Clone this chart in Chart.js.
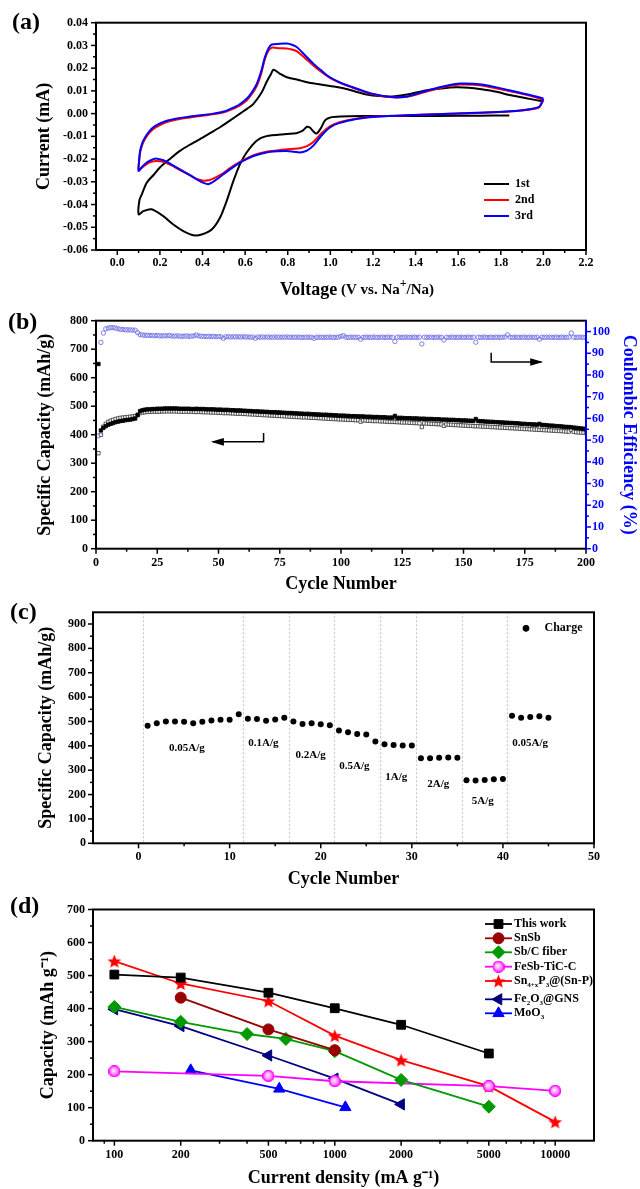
<!DOCTYPE html>
<html>
<head>
<meta charset="utf-8">
<title>Electrochemical performance</title>
<script src="https://cdn.jsdelivr.net/npm/chart.js@4.4.1/dist/chart.umd.min.js"></script>
<style>
  body { margin: 0; background: #fff; }
  #page { position: relative; width: 640px; height: 1189px; overflow: hidden; background: #fff; }
  #page canvas { position: absolute; left: 0; }
  .tag { position: absolute; font: bold 24px "Liberation Serif", serif; line-height: 24px; color: #000; }
</style>
</head>
<body>
<div id="page">
  <canvas id="cvChart" width="640" height="310" style="top:0"></canvas>
  <canvas id="cycleChart" width="640" height="300" style="top:300px"></canvas>
  <canvas id="rateChart" width="640" height="295" style="top:595px"></canvas>
  <canvas id="compareChart" width="640" height="299" style="top:890px"></canvas>
  <div class="tag" style="left:12px;top:9px">(a)</div>
  <div class="tag" style="left:8px;top:309px">(b)</div>
  <div class="tag" style="left:10px;top:599px">(c)</div>
  <div class="tag" style="left:10px;top:893px">(d)</div>
</div>
<script>
// ---- (a) cyclic voltammetry ----
const cv1Volt = [1.84, 1.7, 1.5, 1.3, 1.15, 1.05, 1.0, 0.975, 0.955, 0.935, 0.92, 0.905, 0.89, 0.87, 0.84, 0.795,
  0.70, 0.654, 0.607, 0.576, 0.545, 0.513, 0.482, 0.443, 0.396, 0.357, 0.31, 0.263, 0.216, 0.161, 0.122, 0.1,
  0.104, 0.115, 0.138, 0.17, 0.2, 0.25, 0.294, 0.34, 0.388, 0.435, 0.482, 0.53, 0.576, 0.61, 0.639, 0.678,
  0.70, 0.72, 0.733, 0.764, 0.795, 0.85, 0.89, 0.94, 0.983, 1.03, 1.08, 1.13, 1.17, 1.23, 1.29, 1.36,
  1.46, 1.52, 1.59, 1.65, 1.71, 1.78, 1.84, 1.92, 2.0];
const cv1Curr = [-0.0008, -0.0009, -0.001, -0.001, -0.0011, -0.0013, -0.0017, -0.003, -0.0065, -0.0088, -0.0078, -0.0062, -0.0058, -0.0075, -0.0086, -0.009,
  -0.0099, -0.0119, -0.0171, -0.0222, -0.0296, -0.0385, -0.0458, -0.051, -0.0532, -0.0535, -0.0517, -0.0488, -0.0451, -0.0421, -0.0429, -0.0443,
  -0.038, -0.0355, -0.0304, -0.027, -0.0237, -0.0197, -0.0164, -0.0137, -0.0112, -0.0086, -0.006, -0.003, 0.0, 0.0022, 0.0043, 0.0094,
  0.0138, 0.0172, 0.0193, 0.0175, 0.016, 0.0148, 0.0138, 0.013, 0.0124, 0.0117, 0.0107, 0.0094, 0.0084, 0.0077, 0.0075, 0.0084,
  0.0104, 0.0111, 0.0116, 0.0114, 0.0107, 0.0096, 0.0082, 0.0068, 0.0053];
// cycles 2 and 3 were read at the same voltages
const loopVolt = [2.0, 1.98, 1.9, 1.75, 1.56, 1.36, 1.27, 1.17, 1.1, 1.04, 1.0, 0.96, 0.92, 0.89, 0.858, 0.83, 0.795, 0.75, 0.70,
  0.65, 0.607, 0.57, 0.529, 0.5, 0.467, 0.445, 0.427, 0.405, 0.373, 0.335, 0.294, 0.255, 0.216, 0.185, 0.16, 0.138, 0.118, 0.1,
  0.102, 0.107, 0.118, 0.13, 0.15, 0.169, 0.2, 0.232, 0.28, 0.341, 0.4, 0.45, 0.5, 0.529, 0.57, 0.607, 0.63, 0.654, 0.675, 0.693,
  0.71, 0.725, 0.76, 0.795, 0.82, 0.842, 0.88, 0.92, 0.96, 0.998, 1.05, 1.1, 1.19, 1.29, 1.36, 1.46, 1.555, 1.61, 1.71, 1.84, 1.94, 2.0];
const cv2Curr = [0.006, 0.0028, 0.0014, 0.0005, -0.0001, -0.0007, -0.0011, -0.0016, -0.0026, -0.0039, -0.0055, -0.0085, -0.0125, -0.0143, -0.0152, -0.0155, -0.0157, -0.0162, -0.0168,
  -0.018, -0.0197, -0.0216, -0.024, -0.026, -0.0278, -0.0288, -0.0293, -0.0295, -0.0287, -0.0268, -0.0248, -0.0228, -0.0212, -0.0208, -0.0212, -0.0222, -0.0236, -0.0248,
  -0.0215, -0.0172, -0.0136, -0.0112, -0.0085, -0.0067, -0.005, -0.0037, -0.0026, -0.0017, -0.0009, -0.0003, 0.0006, 0.0016, 0.0033, 0.0058, 0.0084, 0.012, 0.0175, 0.024,
  0.0278, 0.029, 0.0288, 0.0287, 0.0282, 0.0275, 0.0245, 0.0212, 0.0182, 0.0157, 0.0133, 0.0116, 0.0087, 0.0072, 0.0074, 0.0099, 0.0121, 0.0128, 0.0124, 0.0099, 0.0078, 0.006];
const cv3Curr = [0.0067, 0.003, 0.0015, 0.0006, -0.0001, -0.0007, -0.0011, -0.0017, -0.0028, -0.0042, -0.006, -0.0095, -0.0141, -0.0163, -0.0171, -0.0168, -0.0164, -0.0166, -0.0171,
  -0.0183, -0.02, -0.0219, -0.0245, -0.0265, -0.0289, -0.0303, -0.0311, -0.0305, -0.0289, -0.0267, -0.0245, -0.0224, -0.0205, -0.0198, -0.0204, -0.0215, -0.0232, -0.0252,
  -0.021, -0.0164, -0.0128, -0.0105, -0.0078, -0.006, -0.0043, -0.0031, -0.0021, -0.0013, -0.0006, 0.0, 0.0009, 0.002, 0.0038, 0.0065, 0.0092, 0.013, 0.0185, 0.0249,
  0.0288, 0.0304, 0.0307, 0.0308, 0.0303, 0.0293, 0.0258, 0.022, 0.0188, 0.016, 0.0135, 0.0118, 0.0089, 0.0073, 0.0075, 0.0103, 0.0125, 0.0132, 0.0128, 0.0103, 0.0081, 0.0067];
const cvLabels = ['1st', '2nd', '3rd'];
const cvVoltTicks = [0.0, 0.2, 0.4, 0.6, 0.8, 1.0, 1.2, 1.4, 1.6, 1.8, 2.0, 2.2];
const cvCurrTicks = [-0.06, -0.05, -0.04, -0.03, -0.02, -0.01, 0.0, 0.01, 0.02, 0.03, 0.04];

// ---- (b) cycling at constant current, one value per cycle (1..200) ----
const dischargeCap = [
  648, 415, 424, 430, 435, 438, 441, 444, 446, 448, 449, 451, 452, 453, 455, 457, 470, 483, 486, 488,
  489, 489, 490, 490, 491, 491, 491, 492, 492, 492, 492, 492, 492, 491, 491, 491, 491, 491, 490, 490,
  491, 490, 490, 490, 489, 489, 489, 489, 488, 488, 488, 487, 487, 487, 486, 486, 485, 485, 485, 484,
  484, 483, 483, 482, 482, 482, 481, 481, 480, 480, 479, 479, 479, 478, 478, 477, 477, 476, 476, 476,
  475, 475, 474, 474, 473, 473, 473, 472, 472, 471, 471, 470, 470, 470, 469, 469, 468, 468, 467, 467,
  467, 466, 466, 465, 465, 465, 464, 464, 464, 463, 463, 463, 462, 462, 462, 461, 461, 461, 460, 460,
  460, 466, 459, 459, 459, 458, 458, 458, 457, 457, 457, 456, 456, 456, 455, 455, 455, 454, 454, 454,
  453, 453, 453, 452, 452, 452, 451, 451, 450, 450, 450, 449, 449, 448, 455, 448, 447, 447, 446, 446,
  445, 445, 444, 444, 443, 443, 442, 442, 441, 441, 440, 440, 439, 438, 438, 437, 437, 436, 436, 435,
  438, 434, 434, 433, 432, 432, 431, 430, 430, 429, 428, 427, 427, 426, 425, 424, 423, 422, 421, 419];
const chargeCap = [
  335, 400, 428, 438, 445, 449, 452, 455, 457, 459, 460, 461, 462, 463, 464, 465, 468, 476, 478, 479,
  480, 480, 481, 481, 481, 481, 482, 482, 482, 482, 482, 482, 482, 481, 481, 481, 481, 481, 481, 480,
  480, 480, 480, 479, 479, 479, 478, 478, 478, 477, 477, 476, 476, 476, 475, 475, 474, 474, 474, 473,
  473, 472, 472, 471, 471, 470, 470, 469, 469, 468, 468, 467, 467, 466, 466, 465, 465, 464, 464, 463,
  463, 462, 462, 461, 461, 461, 460, 460, 459, 459, 458, 458, 457, 457, 456, 456, 455, 455, 454, 454,
  453, 453, 452, 452, 452, 451, 451, 446, 450, 450, 449, 449, 448, 448, 448, 447, 447, 446, 446, 445,
  445, 445, 444, 444, 443, 443, 443, 442, 442, 441, 441, 440, 427, 440, 439, 439, 438, 438, 437, 437,
  436, 431, 436, 435, 435, 434, 434, 433, 433, 432, 432, 431, 431, 430, 430, 430, 429, 429, 428, 428,
  427, 427, 426, 426, 425, 425, 424, 424, 423, 423, 422, 422, 421, 421, 420, 420, 419, 419, 418, 418,
  417, 417, 416, 416, 415, 415, 414, 414, 413, 413, 412, 411, 411, 417, 410, 409, 408, 408, 407, 406];
const coulombicEff = [
  52, 95, 99.3, 101.3, 101.6, 101.8, 101.8, 101.6, 101.3, 101, 100.9, 100.8, 100.8, 100.7, 100.7, 100.6, 99.5, 98.6, 98.4, 98.3,
  98.3, 98.2, 98.2, 98.1, 98.2, 98, 98, 98.1, 98, 98.2, 97.9, 97.9, 98, 97.9, 97.8, 97.9, 98, 97.8, 97.9, 98,
  98.4, 98, 97.8, 97.8, 97.7, 97.8, 97.7, 97.8, 97.6, 97.7, 97.6, 96.9, 97.6, 97.6, 97.5, 97.6, 97.5, 97.6, 97.5, 97.6,
  97.5, 97.5, 97.4, 97.5, 96.9, 97.5, 97.4, 97.5, 97.4, 97.5, 97.4, 97.4, 97.5, 97.4, 97.4, 97.4, 97.4, 97.5, 97.4, 97.4,
  97.4, 97.4, 97.4, 97.3, 97.4, 97.4, 97.4, 97.3, 96.9, 97.4, 97.4, 97.4, 97.3, 97.4, 97.4, 97.4, 97.3, 97.4, 97.4, 97.8,
  98.1, 97.4, 97.3, 97.4, 97.4, 97.3, 97.4, 96.5, 97.3, 97.4, 97.4, 97.3, 97.4, 97.4, 97.3, 97.4, 97.4, 97.3, 97.4, 97.4,
  97.3, 95.4, 97.4, 97.4, 97.3, 97.4, 97.4, 97.3, 97.4, 97.4, 97.3, 97.4, 94.3, 97.4, 97.3, 97.4, 97.4, 97.3, 97.4, 97.4,
  97.3, 96.1, 97.4, 97.3, 97.4, 97.4, 97.3, 97.4, 97.4, 97.3, 97.4, 97.4, 97.3, 97.4, 95.1, 97.4, 97.3, 97.4, 97.4, 97.3,
  97.4, 97.3, 97.4, 97.4, 97.3, 97.4, 97.5, 98.5, 97.4, 97.3, 97.4, 97.4, 97.3, 97.4, 97.4, 97.3, 97.4, 97.4, 97.3, 97.4,
  96.5, 97.4, 97.3, 97.4, 97.4, 97.3, 97.4, 97.4, 97.3, 97.4, 97.4, 97.3, 97.4, 99.3, 97.4, 97.3, 97.4, 97.4, 97.3, 97.4];
const cycleTicks = [0, 25, 50, 75, 100, 125, 150, 175, 200];
const capTicks = [0, 100, 200, 300, 400, 500, 600, 700, 800];
const ceTicks = [0, 10, 20, 30, 40, 50, 60, 70, 80, 90, 100];
// guide arrows: capacity arrow on the left axis, efficiency arrow on the right axis
const capArrowCycle = [68.4, 68.4, 47.7];
const capArrowValue = [406, 375, 375];
const ceArrowCycle = [161.3, 161.3, 181.7];
const ceArrowValue = [90.2, 86, 86];

// ---- (c) rate capability, charge capacity for cycles 1..45 ----
const rateCharge = [
  482, 493, 500, 500, 499, 493, 499, 504, 507, 507,
  530, 511, 510, 503, 508, 515, 500, 490, 493, 489,
  484, 463, 456, 449, 447, 418, 407, 403, 401, 401,
  349, 349, 351, 352, 351, 259, 258, 260, 263, 264,
  523, 515, 518, 521, 515];
const rateSteps = [0.5, 11.5, 16.5, 21.5, 26.5, 30.5, 35.5, 40.5];
const rateNames = ['0.05A/g', '0.1A/g', '0.2A/g', '0.5A/g', '1A/g', '2A/g', '5A/g', '0.05A/g'];
const rateNameCycle = [5.3, 13.7, 18.9, 23.7, 28.3, 32.9, 37.8, 43];
const rateNameValue = [390, 411, 363, 318, 270, 244, 171, 411];
const rateCycleTicks = [0, 10, 20, 30, 40, 50];
const rateCapTicks = [0, 100, 200, 300, 400, 500, 600, 700, 800, 900];

// ---- (d) comparison with literature ----
const thisWorkI = [100, 200, 500, 1000, 2000, 5000];
const thisWorkC = [503, 494, 448, 401, 351, 264];
const snsbI = [200, 500, 1000];
const snsbC = [433, 337, 274];
const sbcI = [100, 200, 400, 600, 1000, 2000, 5000];
const sbcC = [405, 360, 323, 308, 271, 184, 103];
const fesbI = [100, 500, 1000, 5000, 10000];
const fesbC = [210, 196, 180, 165, 151];
const snpI = [100, 200, 500, 1000, 2000, 5000, 10000];
const snpC = [544, 476, 423, 318, 244, 165, 57];
const fe2o3I = [100, 200, 500, 1000, 2000];
const fe2o3C = [398, 347, 258, 188, 110];
const moo3I = [222, 560, 1117];
const moo3C = [213, 157, 101];
const compareLabels = ['This work', 'SnSb', 'Sb/C fiber', 'FeSb-TiC-C', 'Sn_{4+x}P_{3}@(Sn-P)', 'Fe_{2}O_{3}@GNS', 'MoO_{3}'];
const densityTicks = [100, 200, 500, 1000, 2000, 5000, 10000];
const densityMinor = [90, 300, 400, 600, 700, 800, 900, 3000, 4000, 6000, 7000, 8000, 9000];
const compareCapTicks = [0, 100, 200, 300, 400, 500, 600, 700];

// ---- shared setup ----
const serif = '"Liberation Serif", "Times New Roman", serif';
Chart.defaults.font.family = serif;
Chart.defaults.font.weight = 'bold';
Chart.defaults.font.size = 12;
Chart.defaults.color = '#000';
Chart.defaults.animation = false;
Chart.defaults.events = [];
Chart.defaults.plugins.legend.display = false;
Chart.defaults.plugins.tooltip.enabled = false;

const pts = (xs, ys) => xs.map((x, i) => ({ x: x, y: ys[i] }));
const byCycle = ys => ys.map((y, i) => ({ x: i + 1, y: y }));
const mids = arr => arr.slice(1).map((v, i) => (v + arr[i]) / 2);

function scale(o) {
  return {
    type: o.type || 'linear',
    position: o.position,
    min: o.min,
    max: o.max,
    grid: { display: false, drawTicks: false },
    border: { display: false },
    afterBuildTicks: s => { s.ticks = o.ticks.map(v => ({ value: v })); },
    afterFit: s => {
      if (o.width != null) s.width = o.width;
      if (o.height != null) s.height = o.height;
    },
    ticks: {
      padding: o.pad,
      color: o.color || '#000',
      font: { size: 12, weight: 'bold' },
      autoSkip: false,
      maxRotation: 0,
      callback: o.fmt || (v => String(v))
    },
    title: o.title
      ? { display: true, text: o.title, color: o.color || '#000', font: { size: 18, weight: 'bold' }, padding: o.titlePad }
      : { display: false }
  };
}

// text with _{sub} and ^{sup} parts
function richPieces(str, size) {
  const out = [];
  const re = /([_^])\{([^}]*)\}/g;
  let last = 0, m;
  while ((m = re.exec(str)) !== null) {
    if (m.index > last) out.push({ t: str.slice(last, m.index), size: size, dy: 0 });
    if (m[1] === '_') out.push({ t: m[2], size: Math.round(size * 0.62), dy: size * 0.32 });
    else out.push({ t: m[2], size: Math.round(size * 0.8), dy: -size * 0.38 });
    last = re.lastIndex;
  }
  if (last < str.length) out.push({ t: str.slice(last), size: size, dy: 0 });
  return out;
}
function drawPieces(ctx, pieces, x, y, align) {
  const f = p => 'bold ' + p.size + 'px ' + serif;
  let w = 0;
  pieces.forEach(p => { ctx.font = f(p); p.w = ctx.measureText(p.t).width; w += p.w; });
  let cx = align === 'center' ? x - w / 2 : x;
  ctx.textAlign = 'left';
  ctx.textBaseline = 'middle';
  pieces.forEach(p => { ctx.font = f(p); ctx.fillText(p.t, cx, y + p.dy); cx += p.w; });
}

function drawMarker(ctx, ds, x, y) {
  ctx.fillStyle = ds.pointBackgroundColor || ds.borderColor;
  ctx.strokeStyle = ds.pointBorderColor || ds.borderColor;
  ctx.lineWidth = ds.pointBorderWidth || 1;
  Chart.helpers.drawPoint(ctx, {
    pointStyle: ds.pointStyle,
    radius: ds.pointRadius,
    rotation: ds.pointRotation || 0,
    borderWidth: ds.pointBorderWidth || 1
  }, x, y);
}

// box frame with outward major / minor ticks
const framePlugin = {
  id: 'frame',
  afterDatasetsDraw(chart, args, o) {
    const { ctx, chartArea: a } = chart;
    ctx.save();
    ctx.lineWidth = 2;
    ctx.strokeStyle = '#000';
    ctx.strokeRect(a.left, a.top, a.right - a.left, a.bottom - a.top);
    Object.values(chart.scales).forEach(s => {
      const pos = s.position;
      const col = s.options.ticks.color;
      ctx.strokeStyle = col;
      if (pos === 'right') {
        ctx.lineWidth = 2;
        ctx.beginPath(); ctx.moveTo(a.right, a.top); ctx.lineTo(a.right, a.bottom); ctx.stroke();
      }
      ctx.lineWidth = 1.5;
      const mark = (v, len) => {
        if (v < s.min || v > s.max) return;
        const p = s.getPixelForValue(v);
        ctx.beginPath();
        if (pos === 'bottom') { ctx.moveTo(p, a.bottom); ctx.lineTo(p, a.bottom + len); }
        else if (pos === 'left') { ctx.moveTo(a.left, p); ctx.lineTo(a.left - len, p); }
        else { ctx.moveTo(a.right, p); ctx.lineTo(a.right + len, p); }
        ctx.stroke();
      };
      s.ticks.forEach(t => mark(t.value, 5));
      ((o.minor || {})[s.id] || []).forEach(v => mark(v, 3));
    });
    ctx.restore();
  }
};

// guide lines, in-plot labels, arrows, legends and rich titles
const notesPlugin = {
  id: 'notes',
  beforeDatasetsDraw(chart, args, o) {
    if (!o.vlines) return;
    const { ctx, chartArea: a } = chart;
    const sx = chart.scales.x;
    ctx.save();
    ctx.strokeStyle = '#c4c4c4';
    ctx.lineWidth = 1;
    ctx.setLineDash([2, 2]);
    o.vlines.forEach(v => {
      const p = Math.round(sx.getPixelForValue(v)) + 0.5;
      ctx.beginPath(); ctx.moveTo(p, a.top); ctx.lineTo(p, a.bottom); ctx.stroke();
    });
    ctx.restore();
  },
  afterDatasetsDraw(chart, args, o) {
    const ctx = chart.ctx;
    ctx.save();
    ctx.fillStyle = '#000';
    if (o.labels) {
      const L = o.labels;
      L.text.forEach((t, i) => {
        drawPieces(ctx, richPieces(t, L.size), chart.scales.x.getPixelForValue(L.x[i]),
          chart.scales.y.getPixelForValue(L.y[i]), 'center');
      });
    }
    (o.arrows || []).forEach(ar => {
      const sx = chart.scales.x, sy = chart.scales[ar.axis];
      const P = ar.x.map((v, i) => [sx.getPixelForValue(v), sy.getPixelForValue(ar.y[i])]);
      ctx.strokeStyle = '#000'; ctx.fillStyle = '#000'; ctx.lineWidth = 1.5;
      ctx.beginPath();
      P.forEach((p, i) => (i ? ctx.lineTo(p[0], p[1]) : ctx.moveTo(p[0], p[1])));
      ctx.stroke();
      const [x1, y1] = P[P.length - 2], [x2, y2] = P[P.length - 1];
      const ang = Math.atan2(y2 - y1, x2 - x1);
      ctx.save();
      ctx.translate(x2, y2); ctx.rotate(ang);
      ctx.beginPath(); ctx.moveTo(2, 0); ctx.lineTo(-11, -3.8); ctx.lineTo(-11, 3.8); ctx.closePath(); ctx.fill();
      ctx.restore();
    });
    if (o.legend) {
      const g = o.legend;
      chart.data.datasets.forEach((ds, i) => {
        const y = g.ys[i];
        if (g.line > 0) {
          ctx.strokeStyle = ds.borderColor; ctx.lineWidth = ds.borderWidth;
          ctx.beginPath(); ctx.moveTo(g.x, y); ctx.lineTo(g.x + g.line, y); ctx.stroke();
        }
        if (g.marker) drawMarker(ctx, ds, g.x + g.line / 2, y);
        ctx.fillStyle = '#000';
        drawPieces(ctx, richPieces(ds.label, g.size), g.x + g.line + g.gap, y, 'left');
      });
    }
    if (o.title) {
      const pieces = [];
      o.title.parts.forEach(p => pieces.push(...richPieces(p.text, p.size)));
      ctx.fillStyle = '#000';
      drawPieces(ctx, pieces, o.title.x, o.title.y, 'center');
    }
    ctx.restore();
  }
};
Chart.register(framePlugin, notesPlugin);

function starImage(size, color) {
  const c = document.createElement('canvas');
  c.width = c.height = size;
  const g = c.getContext('2d');
  const r = size / 2, ri = r * 0.42;
  g.beginPath();
  for (let k = 0; k < 10; k++) {
    const rad = k % 2 ? ri : r - 0.3;
    const ang = -Math.PI / 2 + k * Math.PI / 5;
    g.lineTo(r + rad * Math.cos(ang), r + 0.8 + rad * Math.sin(ang));
  }
  g.closePath();
  g.fillStyle = color;
  g.fill();
  return c;
}
function ballImage(size, color) {
  const c = document.createElement('canvas');
  c.width = c.height = size;
  const g = c.getContext('2d');
  const r = size / 2;
  const grad = g.createRadialGradient(r - 1, r - 1, 0.5, r, r, r);
  grad.addColorStop(0, '#ffe6ff');
  grad.addColorStop(0.55, '#ff8cff');
  grad.addColorStop(1, color);
  g.beginPath(); g.arc(r, r, r - 0.5, 0, Math.PI * 2);
  g.fillStyle = grad; g.fill();
  g.lineWidth = 1.2; g.strokeStyle = color; g.stroke();
  return c;
}

// ---- (a) ----
const cvColors = ['#000000', '#ff0000', '#0000ff'];
new Chart(document.getElementById('cvChart'), {
  type: 'scatter',
  data: {
    datasets: [
      { label: cvLabels[0], data: pts(cv1Volt, cv1Curr), order: 3 },
      { label: cvLabels[1], data: pts(loopVolt, cv2Curr), order: 2 },
      { label: cvLabels[2], data: pts(loopVolt, cv3Curr), order: 1 }
    ].map((d, i) => Object.assign(d, {
      showLine: true, borderColor: cvColors[i], borderWidth: 2, pointRadius: 0, tension: 0.25
    }))
  },
  options: {
    responsive: false,
    devicePixelRatio: 1,
    layout: { padding: { left: 0, right: 54, top: 22.7, bottom: 0 } },
    scales: {
      x: scale({ min: -0.1, max: 2.2, ticks: cvVoltTicks, fmt: v => v.toFixed(1), pad: 6, height: 60 }),
      y: scale({ min: -0.06, max: 0.04, ticks: cvCurrTicks, fmt: v => v.toFixed(2), pad: 8, width: 96,
        title: 'Current (mA)', titlePad: { top: 34 } })
    },
    plugins: {
      frame: { minor: { x: mids(cvVoltTicks), y: mids(cvCurrTicks) } },
      notes: {
        legend: { x: 484, ys: [184, 200, 216], line: 25, gap: 6, size: 12, marker: false },
        title: { x: 357, y: 290, parts: [{ text: 'Voltage', size: 18 }, { text: ' (V vs. Na^{+}/Na)', size: 15 }] }
      }
    }
  }
});

// ---- (b) ----
new Chart(document.getElementById('cycleChart'), {
  type: 'scatter',
  data: {
    datasets: [
      { label: 'Discharge', data: byCycle(dischargeCap), yAxisID: 'y', order: 0,
        pointStyle: 'rect', pointRadius: 2.4, pointBackgroundColor: '#000', pointBorderColor: '#000', pointBorderWidth: 0.8 },
      { label: 'Charge', data: byCycle(chargeCap), yAxisID: 'y', order: 1,
        pointStyle: 'rect', pointRadius: 2.4, pointBackgroundColor: '#fff', pointBorderColor: '#333', pointBorderWidth: 0.8 },
      { label: 'Coulombic Efficiency', data: byCycle(coulombicEff), yAxisID: 'y2', order: 2,
        pointStyle: 'circle', pointRadius: 2.2, pointBackgroundColor: 'rgba(255,255,255,0)', pointBorderColor: '#7373e6', pointBorderWidth: 0.9 }
    ]
  },
  options: {
    responsive: false,
    devicePixelRatio: 1,
    layout: { padding: { left: 0, right: 0, top: 20.7, bottom: 0 } },
    scales: {
      x: scale({ min: 0, max: 200, ticks: cycleTicks, pad: 7.4, height: 51.3, title: 'Cycle Number', titlePad: { bottom: 5 } }),
      y: scale({ min: 0, max: 800, ticks: capTicks, pad: 8, width: 96, title: 'Specific Capacity (mAh/g)', titlePad: { top: 35 } }),
      y2: scale({ position: 'right', min: 0, max: 105, ticks: ceTicks, pad: 6, width: 54, color: '#0000ff',
        title: 'Coulombic Efficiency (%)', titlePad: { top: 1 } })
    },
    plugins: {
      frame: { minor: { x: mids(cycleTicks), y: mids(capTicks), y2: mids(ceTicks) } },
      notes: {
        arrows: [
          { x: capArrowCycle, y: capArrowValue, axis: 'y' },
          { x: ceArrowCycle, y: ceArrowValue, axis: 'y2' }
        ]
      }
    }
  }
});

// ---- (c) ----
new Chart(document.getElementById('rateChart'), {
  type: 'scatter',
  data: {
    datasets: [
      { label: 'Charge', data: byCycle(rateCharge), pointStyle: 'circle', pointRadius: 3,
        pointBackgroundColor: '#000', pointBorderColor: '#000', pointBorderWidth: 0 }
    ]
  },
  options: {
    responsive: false,
    devicePixelRatio: 1,
    layout: { padding: { left: 0, right: 46, top: 17.3, bottom: 0 } },
    scales: {
      x: scale({ min: -5, max: 50, ticks: rateCycleTicks, pad: 6.8, height: 46.7, title: 'Cycle Number', titlePad: { bottom: 0 } }),
      y: scale({ min: 0, max: 948, ticks: rateCapTicks, pad: 7, width: 93, title: 'Specific Capacity (mAh/g)', titlePad: { top: 36 } })
    },
    plugins: {
      frame: { minor: { x: mids(rateCycleTicks), y: mids(rateCapTicks) } },
      notes: {
        vlines: rateSteps,
        labels: { x: rateNameCycle, y: rateNameValue, text: rateNames, size: 11 },
        legend: { x: 526, ys: [33.3], line: 0, gap: 18.5, size: 12, marker: true }
      }
    }
  }
});

// ---- (d) ----
const star = starImage(15, '#ff0000');
const ball = ballImage(12, '#ff00ff');
const cmpStyle = [
  { color: '#000000', pointStyle: 'rect', pointRadius: 6.2 },
  { color: '#990000', pointStyle: 'circle', pointRadius: 5.5 },
  { color: '#009900', pointStyle: 'rectRot', pointRadius: 6.5 },
  { color: '#ff00ff', pointStyle: ball, pointRadius: 6 },
  { color: '#ff0000', pointStyle: star, pointRadius: 7 },
  { color: '#000080', pointStyle: 'triangle', pointRadius: 6.5, pointRotation: -90 },
  { color: '#0000ff', pointStyle: 'triangle', pointRadius: 6.5 }
];
const cmpData = [pts(thisWorkI, thisWorkC), pts(snsbI, snsbC), pts(sbcI, sbcC), pts(fesbI, fesbC),
  pts(snpI, snpC), pts(fe2o3I, fe2o3C), pts(moo3I, moo3C)];
new Chart(document.getElementById('compareChart'), {
  type: 'scatter',
  data: {
    datasets: cmpData.map((d, i) => ({
      label: compareLabels[i],
      data: d,
      showLine: true,
      borderColor: cmpStyle[i].color,
      borderWidth: 1.8,
      pointStyle: cmpStyle[i].pointStyle,
      pointRadius: cmpStyle[i].pointRadius,
      pointRotation: cmpStyle[i].pointRotation || 0,
      pointBackgroundColor: cmpStyle[i].color,
      pointBorderColor: cmpStyle[i].color,
      pointBorderWidth: 1,
      order: i
    }))
  },
  options: {
    responsive: false,
    devicePixelRatio: 1,
    layout: { padding: { left: 0, right: 46, top: 19.5, bottom: 0 } },
    scales: {
      x: scale({ type: 'logarithmic', min: 80, max: 15000, ticks: densityTicks, pad: 7, height: 48.3,
        title: 'Current density (mA g\u207B\u00B9)', titlePad: { bottom: 0 } }),
      y: scale({ min: 0, max: 700, ticks: compareCapTicks, pad: 8, width: 93, title: 'Capacity (mAh g\u207B\u00B9)', titlePad: { top: 38 } })
    },
    plugins: {
      frame: { minor: { x: densityMinor, y: mids(compareCapTicks) } },
      notes: {
        legend: { x: 485, ys: [34, 48.3, 62.3, 76.7, 91, 109.3, 123.3], line: 27, gap: 2, size: 12, marker: true }
      }
    }
  }
});
</script>
</body>
</html>
